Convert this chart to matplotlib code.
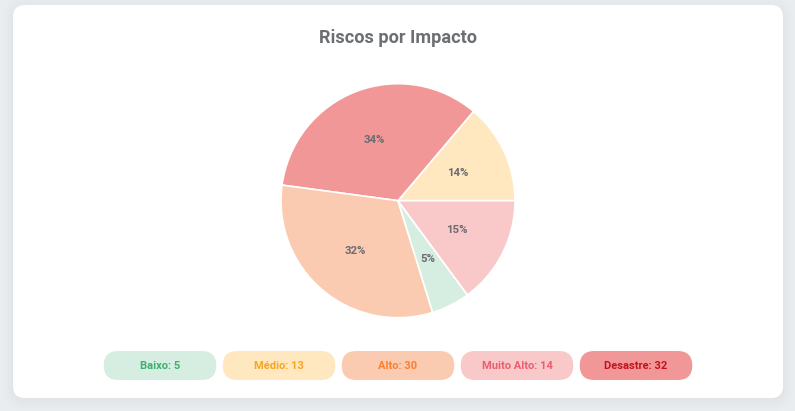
import matplotlib.pyplot as plt
from matplotlib.patches import FancyBboxPatch

plt.rcParams['font.family'] = ['Roboto', 'DejaVu Sans']

# data (drawing order of the pie, counter-clockwise from 3 o'clock)
pie_labels = ['Médio', 'Desastre', 'Alto', 'Baixo', 'Muito Alto']
pie_values = [13, 32, 30, 5, 14]
pie_colors = ['#ffe8c0', '#f29797', '#fbcbb1', '#d6eee2', '#f9c9ca']

# legend order
legend_labels = ['Baixo', 'Médio', 'Alto', 'Muito Alto', 'Desastre']
legend_values = [5, 13, 30, 14, 32]
legend_bg = ['#d6eee2', '#ffe8c0', '#fbcbb1', '#f9c9ca', '#f29797']
legend_fg = ['#3fae6e', '#f5a623', '#fd7e2c', '#e8606e', '#c4121c']

W, H = 795, 411
fig = plt.figure(figsize=(W / 100, H / 100), dpi=100, facecolor='#eaedf0')

# background axes in pixel coordinates (origin top-left)
bg = fig.add_axes([0, 0, 1, 1])
bg.set_xlim(0, W)
bg.set_ylim(H, 0)
bg.axis('off')


def rbox(x0, y0, x1, y1, r, **kw):
    bg.add_patch(FancyBboxPatch((x0, y0), x1 - x0, y1 - y0,
                                boxstyle=f"round,pad=0,rounding_size={r}", **kw))


# card shadow + card
for i, a in enumerate([0.03, 0.025, 0.018, 0.012]):
    s = 2 + i * 3
    rbox(13 - s, 5 - s + 2, 783 + s, 398 + s + 2, 12 + s,
         facecolor='#8f99a4', edgecolor='none', alpha=a)
rbox(13, 5, 783, 398, 12, facecolor='white', edgecolor='none')

bg.text(398, 38, 'Riscos por Impacto', ha='center', va='center',
        fontsize=13.1, fontweight='bold', color='#6b6f73')

# legend pills
pill_w, gap, pill_h = 112.5, 6.5, 29
x_start = 398 - (len(legend_labels) * pill_w + (len(legend_labels) - 1) * gap) / 2
y0 = 351
for i, (lab, val) in enumerate(zip(legend_labels, legend_values)):
    x0 = x_start + i * (pill_w + gap)
    rbox(x0, y0, x0 + pill_w, y0 + pill_h, pill_h / 2,
         facecolor=legend_bg[i], edgecolor='none')
    bg.text(x0 + pill_w / 2, y0 + pill_h / 2 + 0.5, f'{lab}: {val}',
            ha='center', va='center', fontsize=8, fontweight='bold',
            color=legend_fg[i])

# pie
cx, cy, r = 398, 200.7, 117
ax = fig.add_axes([(cx - r) / W, 1 - (cy + r) / H, 2 * r / W, 2 * r / H])
wedges, texts, autotexts = ax.pie(
    pie_values, colors=pie_colors, startangle=0, counterclock=True,
    autopct='%1.0f%%', pctdistance=0.56,
    wedgeprops=dict(edgecolor='white', linewidth=1.2),
    textprops=dict(fontsize=8.2, fontweight='bold', color='#696c70'))
ax.set_xlim(-1, 1)
ax.set_ylim(-1, 1)
ax.axis('off')

fig.savefig('out.png', dpi=100, facecolor=fig.get_facecolor())
